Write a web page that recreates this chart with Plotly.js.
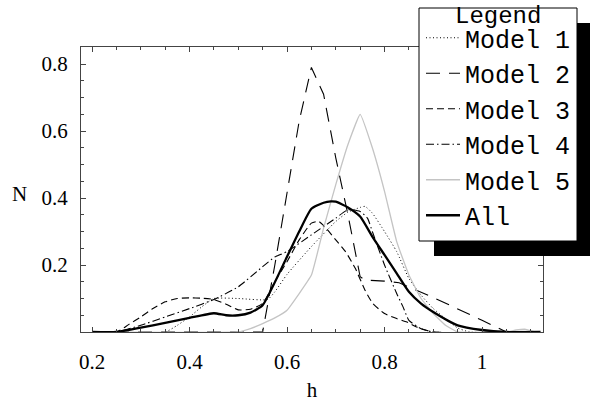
<!DOCTYPE html>
<html>
<head>
<meta charset="utf-8">
<script src="https://cdn.plot.ly/plotly-3.0.1.min.js"></script>
<style>html,body{margin:0;padding:0;background:#fff;}#chart{width:590px;height:402px;}</style>
</head>
<body>
<div id="chart"></div>
<script>
// Data
const seriesNames = ["Model 1", "Model 2", "Model 3", "Model 4", "Model 5", "All"];

const hModel1 = [0.2,0.35,0.375,0.4,0.425,0.45,0.5,0.56,0.575,0.6,0.65,0.7,0.725,0.75,0.76,0.775,0.8,0.825,0.85,0.875,0.9,0.925,0.95,0.975,1.12];
const nModel1 = [0,0,0.02,0.045,0.075,0.1,0.1,0.097,0.12,0.172,0.255,0.33,0.358,0.372,0.375,0.355,0.3,0.24,0.16,0.11,0.07,0.04,0.012,0,0];

const hModel2 = [0.2,0.55,0.575,0.6,0.625,0.65,0.675,0.7,0.725,0.75,0.76,0.8,0.83,0.9,0.95,1.0,1.05,1.12];
const nModel2 = [0,0,0.2,0.41,0.63,0.79,0.71,0.52,0.35,0.165,0.155,0.152,0.147,0.103,0.07,0.035,0,0];

const hModel3 = [0.2,0.25,0.275,0.3,0.325,0.35,0.375,0.4,0.425,0.45,0.475,0.5,0.525,0.55,0.575,0.6,0.625,0.65,0.665,0.68,0.7,0.72,0.74,0.76,0.776,0.8,0.825,0.846,0.866,0.9,1.12];
const nModel3 = [0,0,0.022,0.045,0.07,0.09,0.1,0.102,0.101,0.097,0.083,0.066,0.068,0.085,0.15,0.21,0.275,0.325,0.33,0.31,0.275,0.24,0.19,0.125,0.085,0.055,0.04,0.03,0.015,0,0];

const hModel4 = [0.2,0.25,0.3,0.35,0.4,0.45,0.5,0.55,0.575,0.6,0.65,0.7,0.725,0.75,0.765,0.775,0.8,0.825,0.838,0.85,0.875,0.9,1.12];
const nModel4 = [0,0,0.02,0.045,0.07,0.097,0.135,0.195,0.224,0.24,0.29,0.34,0.365,0.36,0.34,0.3,0.2,0.115,0.075,0.035,0.01,0,0];

const hModel5 = [0.2,0.5,0.525,0.55,0.575,0.6,0.65,0.675,0.7,0.725,0.75,0.775,0.8,0.825,0.85,0.875,0.9,0.925,0.95,1.05,1.07,1.09,1.11,1.12];
const nModel5 = [0,0,0.01,0.025,0.042,0.065,0.17,0.31,0.44,0.56,0.65,0.55,0.42,0.27,0.17,0.1,0.055,0.02,0,0,0.006,0.008,0,0];

const hAll = [0.2,0.25,0.3,0.35,0.4,0.45,0.475,0.5,0.525,0.55,0.6,0.625,0.65,0.675,0.69,0.7,0.725,0.75,0.775,0.8,0.825,0.85,0.875,0.9,0.95,1.0,1.05,1.12];
const nAll = [0,0,0.013,0.027,0.042,0.056,0.05,0.05,0.058,0.08,0.225,0.3,0.368,0.386,0.39,0.389,0.372,0.345,0.285,0.23,0.175,0.12,0.085,0.06,0.02,0.006,0,0];

const xTickVals = [0.2, 0.4, 0.6, 0.8, 1];
const xTickText = ["0.2", "0.4", "0.6", "0.8", "1"];
const yTickVals = [0, 0.2, 0.4, 0.6, 0.8];
const yTickText = ["", "0.2", "0.4", "0.6", "0.8"];
const legendTitle = "Legend";

const xs = [hModel1, hModel2, hModel3, hModel4, hModel5, hAll];
const ys = [nModel1, nModel2, nModel3, nModel4, nModel5, nAll];
const lineStyles = [
  {color: "#000", width: 1, dash: "1px,2.5px", shape: "spline", smoothing: 0.5},
  {color: "#000", width: 1.1, dash: "14px,9px", shape: "linear"},
  {color: "#000", width: 1.1, dash: "7px,4px", shape: "spline", smoothing: 0.5},
  {color: "#000", width: 1.1, dash: "8px,3px,1.5px,3px", shape: "spline", smoothing: 0.5},
  {color: "#c4c4c4", width: 1.3, dash: "solid", shape: "spline", smoothing: 0.3},
  {color: "#000", width: 2.3, dash: "solid", shape: "spline", smoothing: 0.5}
];

const traces = seriesNames.map((name, i) => ({
  type: "scatter", mode: "lines", name: name,
  x: xs[i], y: ys[i], line: lineStyles[i], hoverinfo: "skip"
}));

const serif = {family: "Liberation Serif", size: 21, color: "#000"};
const mono = {family: "Liberation Mono", size: 25, color: "#000"};
const monoTitle = {family: "Liberation Mono", size: 24, color: "#000"};

const axisCommon = {
  showgrid: false, zeroline: false, showline: true, linecolor: "#444", linewidth: 1,
  mirror: "ticks", ticks: "inside", ticklen: 5, tickcolor: "#444", tickwidth: 1,
  tickfont: serif,
  minor: {tickmode: "linear", tick0: 0, dtick: 0.05, ticks: "inside", ticklen: 3, tickcolor: "#444", showgrid: false}
};

// pixel helpers for the decorative legend frame (paper coordinates)
const plotL = 81, plotW = 462, plotB = 332, plotH = 285;
const px = v => (v - plotL) / plotW;
const py = v => (plotB - v) / plotH;

const layout = {
  width: 590, height: 402,
  margin: {l: 81, r: 47, t: 47, b: 70},
  paper_bgcolor: "#fff", plot_bgcolor: "#fff",
  showlegend: true,
  xaxis: Object.assign({}, axisCommon, {
    range: [0.1774, 1.1251], tickmode: "array", tickvals: xTickVals, ticktext: xTickText,
    ticklabelstandoff: 11,
    title: {text: "h", font: serif, standoff: 20}
  }),
  yaxis: Object.assign({}, axisCommon, {
    range: [0, 0.851], tickmode: "array", tickvals: yTickVals, ticktext: yTickText,
    ticklabelstandoff: 8
  }),
  legend: {
    x: px(421), y: py(15), xanchor: "left", yanchor: "top",
    bgcolor: "rgba(0,0,0,0)", borderwidth: 0, maxheight: 400,
    itemwidth: 34,
    font: mono
  },
  shapes: [
    {type: "rect", xref: "paper", yref: "paper", layer: "above",
     x0: px(434), x1: px(600), y0: py(256), y1: py(23),
     fillcolor: "#000", line: {width: 0}},
    {type: "rect", xref: "paper", yref: "paper", layer: "above",
     x0: px(419), x1: px(577), y0: py(241), y1: py(8),
     fillcolor: "#fff", line: {color: "#000", width: 1}}
  ],
  annotations: [
    {text: "N", xref: "paper", yref: "paper", x: px(19), y: py(194),
     xanchor: "center", yanchor: "middle", showarrow: false, font: serif},
    {text: legendTitle, xref: "paper", yref: "paper", x: px(498), y: py(17),
     xanchor: "center", yanchor: "middle", showarrow: false, font: monoTitle}
  ]
};

Plotly.newPlot("chart", traces, layout, {displayModeBar: false, staticPlot: true});
</script>
</body>
</html>
